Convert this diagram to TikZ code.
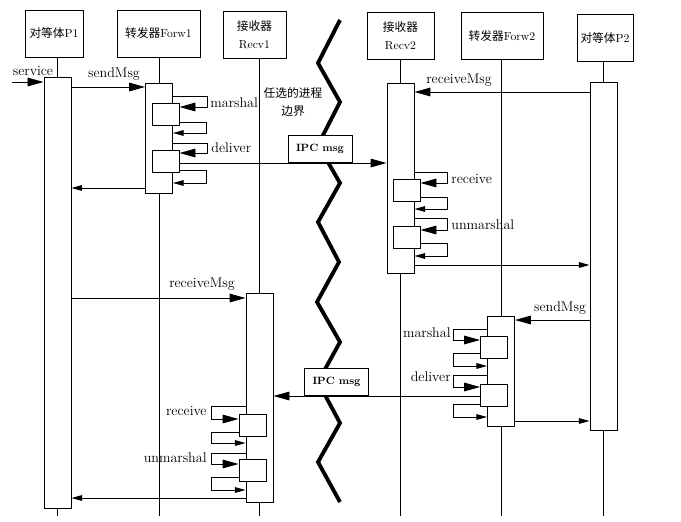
\documentclass[tikz,border=0pt]{standalone}
\usepackage{fontspec}
\newfontfamily\cjk{Noto Sans CJK SC}
\usetikzlibrary{arrows.meta}

\tikzset{
	head/.style={draw, line width=0.8pt, minimum height=1.41cm, align=center, inner sep=1pt, font=\fontsize{10}{15}\selectfont},
	bar/.style={draw, fill=white, line width=0.8pt, minimum width=0.81cm, inner sep=0pt},
	subbox/.style={draw, fill=white, line width=0.8pt, minimum width=0.81cm, minimum height=0.66cm, inner sep=0pt},
	lbl/.style={font=\large\addfontfeatures{FakeBold=0.6}, inner sep=1pt},
	ipcbox/.style={draw, fill=white, line width=0.8pt, font=\small\bfseries, minimum width=1.92cm, minimum height=0.8cm, inner sep=1pt},
	call/.style={line width=0.8pt, -{Triangle[length=4.8mm,width=2.6mm]}},
	ret/.style={line width=0.8pt, -{Triangle[length=3.2mm,width=1.7mm]}},
	life/.style={line width=0.8pt},
	boundary/.style={line width=3.3pt},
}

\begin{document}
\begin{tikzpicture}[x=0.03cm, y=-0.03cm]
	\useasboundingbox (0,0) rectangle (681,521);
	\coordinate (bottom) at (0,516);
	% Objects:
	\node[head, minimum width=1.74cm] (p1) at (54,33.5) {{\cjk 对等体}P1};
	\node[head, minimum width=2.49cm] (fw1) at (158.5,33.5) {{\cjk 转发器}Forw1};
	\node[head, minimum width=1.89cm] (rv1) at (254.5,34.5) {{\cjk 接收器}\\Recv1};
	\node[head, minimum width=2.01cm] (rv2) at (400.5,35.5) {{\cjk 接收器}\\Recv2};
	\node[head, minimum width=2.46cm] (fw2) at (502,36) {{\cjk 转发器}Forw2};
	\node[head, minimum width=1.68cm] (p2) at (605,38) {{\cjk 对等体}P2};
	% Activations:
	\node[bar, minimum height=12.93cm] (p1bar) at (57.5,292.5){};
	\node[bar, minimum height=3.3cm] (fw1bar) at (159,138){};
	\node[bar, minimum height=6.27cm] (rv1bar) at (259.5,397.5){};
	\node[bar, minimum height=5.7cm] (rv2bar) at (400.5,178){};
	\node[bar, minimum height=3.3cm] (fw2bar) at (501,371){};
	\node[bar, minimum height=10.44cm] (p2bar) at (603.5,256){};
	\node[subbox] (fw1a) at (165.5,114.5){};
	\node[subbox] (fw1b) at (165.5,161.5){};
	\node[subbox] (rv2a) at (406.5,190.5){};
	\node[subbox] (rv2b) at (406.5,237){};
	\node[subbox] (fw2a) at (494,347){};
	\node[subbox] (fw2b) at (494,395){};
	\node[subbox] (rv1a) at (252.5,425){};
	\node[subbox] (rv1b) at (252.5,470.5){};
	% Lifelines:
	\draw[life] (p1bar.north |- p1.south) -- (p1bar.north);
	\draw[life] (p1bar.south) -- (p1bar.south |- bottom);
	\draw[life] (fw1bar.north |- fw1.south) -- (fw1bar.north);
	\draw[life] (fw1bar.south) -- (fw1bar.south |- bottom);
	\draw[life] (rv1bar.north |- rv1.south) -- (rv1bar.north);
	\draw[life] (rv1bar.south) -- (rv1bar.south |- bottom);
	\draw[life] (rv2bar.north |- rv2.south) -- (rv2bar.north);
	\draw[life] (rv2bar.south) -- (rv2bar.south |- bottom);
	\draw[life] (fw2bar.north |- fw2.south) -- (fw2bar.north);
	\draw[life] (fw2bar.south) -- (fw2bar.south |- bottom);
	\draw[life] (p2bar.north |- p2.south) -- (p2bar.north);
	\draw[life] (p2bar.south) -- (p2bar.south |- bottom);
	% Process boundary:
	\draw[boundary] (340,20) -- (318,63) -- (340,102) -- (318,145) -- (340,183) -- (318,222) -- (339,262) -- (317,302) -- (340,342) -- (318,382) -- (340,423) -- (318,462) -- (340,502);
	% Messages, upper half:
	\coordinate (svc) at (12,82);
	\draw[call] (svc) -- (p1bar.west |- svc);
	\draw[call] (p1bar.east |- 0,87) -- (fw1bar.west |- 0,87);
	\draw[call] (fw1bar.east |- 0,96) -- ++(34,0) |- (fw1a.east |- 0,107);
	\draw[ret] (fw1a.east |- 0,122) -- ++(27,0) |- (fw1bar.east |- 0,133);
	\draw[call] (fw1bar.east |- 0,143) -- ++(34,0) |- (fw1b.east |- 0,153);
	\draw[ret] (fw1b.east |- 0,170) -- ++(27,0) |- (fw1bar.east |- 0,183);
	\draw[call] (fw1b.east |- 0,163) -- (rv2bar.west |- 0,163);
	\draw[ret] (fw1bar.west |- 0,188) -- (p1bar.east |- 0,188);
	\draw[call] (p2bar.west |- 0,92) -- (rv2bar.east |- 0,92);
	\draw[call] (rv2bar.east |- 0,172) -- ++(33,0) |- (rv2a.east |- 0,183);
	\draw[ret] (rv2a.east |- 0,197) -- ++(27,0) |- (rv2bar.east |- 0,209);
	\draw[call] (rv2bar.east |- 0,218) -- ++(33,0) |- (rv2b.east |- 0,230);
	\draw[ret] (rv2b.east |- 0,243) -- ++(27,0) |- (rv2bar.east |- 0,256);
	\draw[ret] (rv2bar.east |- 0,265) -- (p2bar.west |- 0,265);
	% Messages, lower half:
	\draw[call] (p1bar.east |- 0,298) -- (rv1bar.west |- 0,298);
	\draw[call] (p2bar.west |- 0,320) -- (fw2bar.east |- 0,320);
	\draw[call] (fw2bar.west |- 0,329) -- ++(-34,0) |- (fw2a.west |- 0,340);
	\draw[ret] (fw2a.west |- 0,353) -- ++(-27,0) |- (fw2bar.west |- 0,366);
	\draw[call] (fw2bar.west |- 0,375) -- ++(-34,0) |- (fw2b.west |- 0,387);
	\draw[ret] (fw2b.west |- 0,404) -- ++(-27,0) |- (fw2bar.west |- 0,417);
	\draw[call] (fw2b.west |- 0,396) -- (rv1bar.east |- 0,396);
	\draw[ret] (fw2bar.east |- 0,421) -- (p2bar.west |- 0,421);
	\draw[call] (rv1bar.west |- 0,406) -- ++(-34,0) |- (rv1a.west |- 0,419);
	\draw[ret] (rv1a.west |- 0,432) -- ++(-27,0) |- (rv1bar.west |- 0,443);
	\draw[call] (rv1bar.west |- 0,453) -- ++(-34,0) |- (rv1b.west |- 0,464);
	\draw[ret] (rv1b.west |- 0,477) -- ++(-27,0) |- (rv1bar.west |- 0,490);
	\draw[ret] (rv1bar.west |- 0,498) -- (p1bar.east |- 0,498);
	% Labels:
	\node[ipcbox, anchor=south] (ipc1) at (320,163) {IPC msg};
	\node[ipcbox, anchor=south] (ipc2) at (336.5,396) {IPC msg};
	\node[font=\cjk\fontsize{10}{16}\selectfont, align=center] (lbound) at (293,102) {任选的进程\\边界};
	\node[lbl] (lsvc) at (33,71) {service};
	\node[lbl] (lsend1) at (114,74) {sendMsg};
	\node[lbl, anchor=west] (lmar1) at (209,103) {marshal};
	\node[lbl, anchor=west] (ldel1) at (210,148) {deliver};
	\node[lbl] (lrecv2) at (459,80) {receiveMsg};
	\node[lbl, anchor=west] (lrc2) at (450,179) {receive};
	\node[lbl, anchor=west] (lum2) at (450,225) {unmarshal};
	\node[lbl] (lrecv1) at (202,284) {receiveMsg};
	\node[lbl] (lsend2) at (560,308) {sendMsg};
	\node[lbl, anchor=east] (lmar2) at (452,333) {marshal};
	\node[lbl, anchor=east] (ldel2) at (452,377) {deliver};
	\node[lbl, anchor=east] (lrc1) at (208,411) {receive};
	\node[lbl, anchor=east] (lum1) at (208,458) {unmarshal};
\end{tikzpicture}
\end{document}
